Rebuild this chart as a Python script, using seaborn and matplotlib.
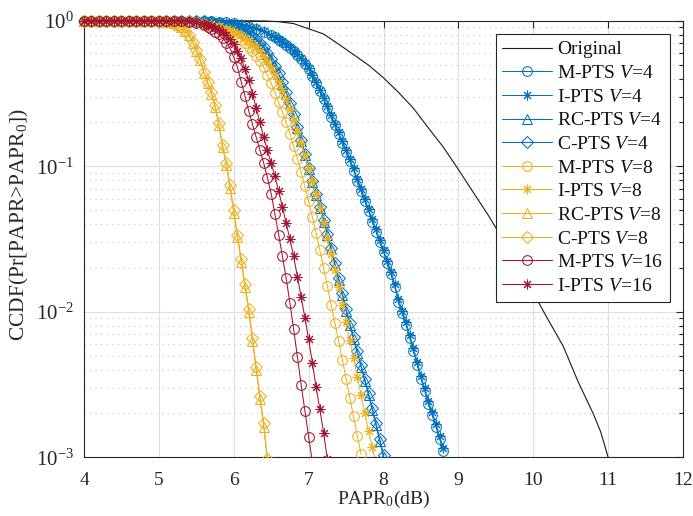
import matplotlib
matplotlib.use("Agg")
import matplotlib.pyplot as plt
import seaborn as sns
import pandas as pd
from matplotlib.ticker import LogLocator, NullLocator, NullFormatter, FixedLocator
from matplotlib.transforms import Bbox, TransformedBbox

# ---------------- data ----------------
papr_orig = [4.0, 5.0, 6.0, 6.2, 6.4, 6.6, 6.8, 7.0, 7.2, 7.4, 7.6, 7.8, 8.0, 8.2,
             8.4, 8.6, 8.8, 9.0, 9.2, 9.4, 9.6, 9.8, 10.0, 10.2, 10.4, 10.6, 10.8,
             10.9, 11.0]
ccdf_orig = [1.0, 1.0, 0.9995, 0.998, 0.995, 0.985, 0.955, 0.88, 0.81, 0.69, 0.585,
             0.495, 0.405, 0.322, 0.25, 0.183, 0.135, 0.095, 0.066, 0.046, 0.031,
             0.0205, 0.0135, 0.0088, 0.0058, 0.0033, 0.0020, 0.0015, 0.00100]

# V = 4
papr_v4_mi = [4.0, 4.1, 4.2, 4.3, 4.4, 4.5, 4.6, 4.7, 4.8, 4.9, 5.0, 5.1, 5.2, 5.3,
              5.4, 5.5, 5.6, 5.7, 5.8, 5.9, 6.0, 6.1, 6.2, 6.3, 6.4,
              6.5, 6.55, 6.6, 6.65, 6.7, 6.75, 6.8, 6.85, 6.9, 6.95, 7.0, 7.05,
              7.1, 7.15, 7.2, 7.25, 7.3, 7.35, 7.4, 7.45, 7.5, 7.55, 7.6, 7.65,
              7.7, 7.75, 7.8, 7.85, 7.9, 7.95, 8.0, 8.05, 8.1, 8.15, 8.2, 8.25,
              8.3, 8.35, 8.4, 8.45, 8.5, 8.55, 8.6, 8.65, 8.7, 8.75, 8.8]
ccdf_m_pts_v4 = [1.0, 1.0, 1.0, 1.0, 1.0, 1.0, 1.0, 1.0, 1.0, 1.0, 1.0, 1.0, 1.0, 1.0,
                 1.0, 1.0, 0.993, 0.989, 0.982, 0.973, 0.959, 0.940, 0.912, 0.881, 0.841,
                 0.794, 0.767, 0.741, 0.713, 0.684, 0.650, 0.617, 0.579, 0.543, 0.507,
                 0.468, 0.417, 0.372, 0.327, 0.288, 0.251, 0.219, 0.191, 0.166, 0.145,
                 0.126, 0.108, 0.0933, 0.0794, 0.0676, 0.0575, 0.0490, 0.0417, 0.0355,
                 0.0302, 0.0257, 0.0216, 0.0182, 0.0148, 0.0117, 0.00977, 0.00813,
                 0.00661, 0.00537, 0.00432, 0.00347, 0.00285, 0.00234, 0.00195,
                 0.00162, 0.00133, 0.00110]
ccdf_i_pts_v4 = [1.0, 1.0, 1.0, 1.0, 1.0, 1.0, 1.0, 1.0, 1.0, 1.0, 1.0, 1.0, 1.0, 1.0,
                 1.0, 1.0, 0.994, 0.990, 0.983, 0.975, 0.962, 0.944, 0.917, 0.886, 0.847,
                 0.800, 0.772, 0.746, 0.718, 0.690, 0.657, 0.624, 0.587, 0.551, 0.515,
                 0.476, 0.425, 0.380, 0.334, 0.295, 0.258, 0.225, 0.196, 0.171, 0.149,
                 0.130, 0.112, 0.0965, 0.0822, 0.0700, 0.0596, 0.0508, 0.0432, 0.0368,
                 0.0313, 0.0266, 0.0224, 0.0189, 0.0154, 0.0122, 0.0102, 0.00851,
                 0.00692, 0.00563, 0.00453, 0.00364, 0.00299, 0.00245, 0.00204,
                 0.00170, 0.00139, 0.00115]

papr_v4_rc = [4.0, 4.1, 4.2, 4.3, 4.4, 4.5, 4.6, 4.7, 4.8, 4.9, 5.0, 5.1, 5.2, 5.3,
              5.4, 5.5, 5.6, 5.7, 5.8, 5.9,
              6.0, 6.05, 6.1, 6.15, 6.2, 6.25, 6.3, 6.35, 6.4, 6.45, 6.5, 6.55, 6.6,
              6.65, 6.7, 6.75, 6.8, 6.85, 6.9, 6.95, 7.0, 7.05, 7.1, 7.15, 7.2, 7.25,
              7.3, 7.35, 7.4, 7.45, 7.5, 7.55, 7.6, 7.65, 7.7, 7.75, 7.8, 7.85, 7.9,
              7.95, 8.0]
ccdf_rc_pts_v4 = [1.0, 1.0, 1.0, 1.0, 1.0, 1.0, 1.0, 1.0, 1.0, 1.0, 1.0, 1.0, 1.0, 1.0,
                  1.0, 1.0, 0.989, 0.977, 0.959, 0.933,
                  0.902, 0.881, 0.861, 0.838, 0.813, 0.780, 0.741, 0.695, 0.646, 0.592,
                  0.537, 0.481, 0.427, 0.370, 0.316, 0.267, 0.224, 0.183, 0.148, 0.119,
                  0.0955, 0.0776, 0.0631, 0.0513, 0.0417, 0.0335, 0.0269, 0.0211,
                  0.0166, 0.0130, 0.0102, 0.00813, 0.00646, 0.00519, 0.00417, 0.00335,
                  0.00269, 0.00211, 0.00166, 0.00129, 0.00100]
ccdf_c_pts_v4 = [1.0, 1.0, 1.0, 1.0, 1.0, 1.0, 1.0, 1.0, 1.0, 1.0, 1.0, 1.0, 1.0, 1.0,
                 1.0, 1.0, 0.990, 0.978, 0.961, 0.936,
                 0.905, 0.884, 0.865, 0.842, 0.818, 0.786, 0.748, 0.703, 0.655, 0.601,
                 0.546, 0.490, 0.436, 0.378, 0.323, 0.273, 0.229, 0.187, 0.151, 0.122,
                 0.0978, 0.0795, 0.0647, 0.0526, 0.0428, 0.0344, 0.0276, 0.0217,
                 0.0171, 0.0134, 0.0105, 0.00838, 0.00666, 0.00535, 0.00430, 0.00346,
                 0.00278, 0.00218, 0.00172, 0.00133, 0.00104]

# V = 8
papr_v8_m = [4.0, 4.1, 4.2, 4.3, 4.4, 4.5, 4.6, 4.7, 4.8, 4.9, 5.0, 5.1, 5.2, 5.3,
             5.4, 5.5, 5.6, 5.7, 5.8,
             5.9, 5.95, 6.0, 6.05, 6.1, 6.15, 6.2, 6.25, 6.3, 6.35, 6.4, 6.45, 6.5,
             6.55, 6.6, 6.65, 6.7, 6.75, 6.8, 6.85, 6.9, 6.95, 7.0, 7.05, 7.1, 7.15,
             7.2, 7.25, 7.3, 7.35, 7.4, 7.45, 7.5, 7.55, 7.6, 7.65, 7.7]
ccdf_m_pts_v8 = [1.0, 1.0, 1.0, 1.0, 1.0, 1.0, 1.0, 1.0, 1.0, 1.0, 1.0, 1.0, 1.0, 1.0,
                 1.0, 0.977, 0.955, 0.923, 0.891,
                 0.851, 0.828, 0.804, 0.774, 0.741, 0.703, 0.661, 0.615, 0.569, 0.525,
                 0.479, 0.424, 0.372, 0.321, 0.275, 0.236, 0.200, 0.167, 0.138, 0.113,
                 0.0912, 0.0728, 0.0575, 0.0449, 0.0347, 0.0264, 0.0200, 0.0150,
                 0.0112, 0.00841, 0.00631, 0.00468, 0.00347, 0.00257, 0.00191,
                 0.00141, 0.00105]

papr_v8_i = [4.0, 4.1, 4.2, 4.3, 4.4, 4.5, 4.6, 4.7, 4.8, 4.9, 5.0, 5.1, 5.2, 5.3,
             5.4, 5.5, 5.6, 5.7, 5.8,
             5.9, 5.95, 6.0, 6.05, 6.1, 6.15, 6.2, 6.25, 6.3, 6.35, 6.4, 6.45, 6.5,
             6.55, 6.6, 6.65, 6.7, 6.75, 6.8, 6.85, 6.9, 6.95, 7.0, 7.05, 7.1, 7.15,
             7.2, 7.25, 7.3, 7.35, 7.4, 7.45, 7.5, 7.55, 7.6, 7.65, 7.7, 7.75, 7.8,
             7.85, 7.9]
ccdf_i_pts_v8 = [1.0, 1.0, 1.0, 1.0, 1.0, 1.0, 1.0, 1.0, 1.0, 1.0, 1.0, 1.0, 1.0, 1.0,
                 1.0, 0.982, 0.966, 0.944, 0.916,
                 0.881, 0.861, 0.841, 0.818, 0.794, 0.764, 0.733, 0.697, 0.661, 0.619,
                 0.575, 0.527, 0.479, 0.429, 0.380, 0.333, 0.288, 0.247, 0.209, 0.175,
                 0.145, 0.119, 0.0977, 0.0794, 0.0646, 0.0513, 0.0407, 0.0320,
                 0.0251, 0.0193, 0.0148, 0.0112, 0.00851, 0.00638, 0.00479, 0.00359,
                 0.00269, 0.00202, 0.00151, 0.00117, 0.00091]

papr_v8_rc = [4.0, 4.1, 4.2, 4.3, 4.4, 4.5, 4.6, 4.7, 4.8, 4.9, 5.0, 5.1,
              5.2, 5.25, 5.3, 5.35, 5.4, 5.45, 5.5, 5.55, 5.6, 5.65, 5.7, 5.75, 5.8,
              5.85, 5.9, 5.95, 6.0, 6.05, 6.1, 6.15, 6.2, 6.25, 6.3, 6.35, 6.4, 6.45]
ccdf_rc_pts_v8 = [1.0, 1.0, 1.0, 1.0, 1.0, 1.0, 1.0, 1.0, 1.0, 1.0, 0.993, 0.984,
                  0.959, 0.938, 0.902, 0.851, 0.794, 0.708, 0.617, 0.537, 0.437,
                  0.372, 0.316, 0.257, 0.191, 0.135, 0.102, 0.0708, 0.0479, 0.0324,
                  0.0219, 0.0148, 0.0100, 0.00631, 0.00398, 0.00251, 0.00162, 0.00095]
ccdf_c_pts_v8 = [1.0, 1.0, 1.0, 1.0, 1.0, 1.0, 1.0, 1.0, 1.0, 1.0, 0.994, 0.985,
                 0.961, 0.941, 0.906, 0.856, 0.800, 0.716, 0.626, 0.546, 0.446,
                 0.381, 0.324, 0.264, 0.197, 0.140, 0.106, 0.0738, 0.0500, 0.0339,
                 0.0229, 0.0155, 0.0105, 0.00663, 0.00419, 0.00264, 0.00171, 0.00098]

# V = 16
papr_v16_m = [4.0, 4.1, 4.2, 4.3, 4.4, 4.5, 4.6, 4.7, 4.8, 4.9, 5.0, 5.1, 5.2, 5.3,
              5.4, 5.5,
              5.6, 5.65, 5.7, 5.75, 5.8, 5.85, 5.9, 5.95, 6.0, 6.05, 6.1, 6.15, 6.2,
              6.25, 6.3, 6.35, 6.4, 6.45, 6.5, 6.55, 6.6, 6.65, 6.7, 6.75, 6.8, 6.85,
              6.9, 6.95, 7.0, 7.05]
ccdf_m_pts_v16 = [1.0, 1.0, 1.0, 1.0, 1.0, 1.0, 1.0, 1.0, 1.0, 1.0, 1.0, 1.0, 1.0, 1.0,
                  0.982, 0.959,
                  0.927, 0.902, 0.875, 0.841, 0.804, 0.759, 0.708, 0.646, 0.562, 0.479,
                  0.380, 0.302, 0.240, 0.195, 0.158, 0.129, 0.105, 0.0832, 0.0646,
                  0.0468, 0.0339, 0.0240, 0.0170, 0.0115, 0.00759, 0.00490, 0.00316,
                  0.00209, 0.00138, 0.00093]

papr_v16_i = [4.0, 4.1, 4.2, 4.3, 4.4, 4.5, 4.6, 4.7, 4.8, 4.9, 5.0, 5.1, 5.2, 5.3,
              5.4, 5.5,
              5.6, 5.65, 5.7, 5.75, 5.8, 5.85, 5.9, 5.95, 6.0, 6.05, 6.1, 6.15, 6.2,
              6.25, 6.3, 6.35, 6.4, 6.45, 6.5, 6.55, 6.6, 6.65, 6.7, 6.75, 6.8, 6.85,
              6.9, 6.95, 7.0, 7.05, 7.1, 7.15, 7.2, 7.25]
ccdf_i_pts_v16 = [1.0, 1.0, 1.0, 1.0, 1.0, 1.0, 1.0, 1.0, 1.0, 1.0, 1.0, 1.0, 1.0, 1.0,
                  1.0, 0.977,
                  0.955, 0.938, 0.918, 0.895, 0.871, 0.838, 0.794, 0.745, 0.692, 0.624,
                  0.550, 0.468, 0.389, 0.316, 0.251, 0.200, 0.158, 0.129, 0.105,
                  0.0851, 0.0676, 0.0525, 0.0407, 0.0316, 0.0240, 0.0174, 0.0126,
                  0.00912, 0.00646, 0.00447, 0.00302, 0.00214, 0.00148, 0.00097]

x_ticks = [4, 5, 6, 7, 8, 9, 10, 11, 12]

# ---------------- style ----------------
sns.set_style("white")
plt.rcParams["font.family"] = ["Liberation Serif", "DejaVu Serif"]
plt.rcParams["mathtext.fontset"] = "custom"
plt.rcParams["mathtext.rm"] = "Liberation Serif"
plt.rcParams["mathtext.it"] = "Liberation Serif:italic"
plt.rcParams["mathtext.bf"] = "Liberation Serif:bold"
plt.rcParams["axes.unicode_minus"] = False

BLUE = "#0072BD"
YELLOW = "#EDB120"
RED = "#A2142F"
AX_COL = "#262626"

fig = plt.figure(figsize=(6.93, 5.16), dpi=100)
ax = fig.add_axes([84 / 693, 1 - 457.3 / 516, 599 / 693, 436.6 / 516])

def draw(x, y, label, color, marker=None, ms=7, lw=0.75, zorder=3):
    df = pd.DataFrame({"papr": x, "ccdf": y})
    kw = dict(color=color, linewidth=lw, label=label, zorder=zorder,
              estimator=None, errorbar=None)
    if marker is not None:
        kw.update(marker=marker, markersize=ms, markerfacecolor="none",
                  markeredgecolor=color, markeredgewidth=0.75)
    sns.lineplot(data=df, x="papr", y="ccdf", ax=ax, **kw)

ASTER = (8, 2, 0)

draw(papr_orig, ccdf_orig, "Original", "#1a1a1a", lw=0.8)
draw(papr_v4_mi, ccdf_m_pts_v4, r"M-PTS $\mathit{V}$=$\mathit{4}$", BLUE, "o")
draw(papr_v4_mi, ccdf_i_pts_v4, r"I-PTS $\mathit{V}$=$\mathit{4}$", BLUE, ASTER)
draw(papr_v4_rc, ccdf_rc_pts_v4, r"RC-PTS $\mathit{V}$=$\mathit{4}$", BLUE, "^")
draw(papr_v4_rc, ccdf_c_pts_v4, r"C-PTS $\mathit{V}$=$\mathit{4}$", BLUE, "D", ms=6)
draw(papr_v8_m, ccdf_m_pts_v8, r"M-PTS $\mathit{V}$=$\mathit{8}$", YELLOW, "o")
draw(papr_v8_i, ccdf_i_pts_v8, r"I-PTS $\mathit{V}$=$\mathit{8}$", YELLOW, ASTER)
draw(papr_v8_rc, ccdf_rc_pts_v8, r"RC-PTS $\mathit{V}$=$\mathit{8}$", YELLOW, "^")
draw(papr_v8_rc, ccdf_c_pts_v8, r"C-PTS $\mathit{V}$=$\mathit{8}$", YELLOW, "D", ms=6)
draw(papr_v16_m, ccdf_m_pts_v16, r"M-PTS $\mathit{V}$=$\mathit{16}$", RED, "o")
draw(papr_v16_i, ccdf_i_pts_v16, r"I-PTS $\mathit{V}$=$\mathit{16}$", RED, ASTER)

ax.set_yscale("log")
ax.set_xlim(4, 12)
ax.set_ylim(1e-3, 1)
ax.xaxis.set_major_locator(FixedLocator(x_ticks))
ax.xaxis.set_minor_locator(NullLocator())
ax.yaxis.set_major_locator(LogLocator(base=10, numticks=10))
ax.yaxis.set_minor_locator(LogLocator(base=10, subs=range(2, 10), numticks=20))
ax.yaxis.set_minor_formatter(NullFormatter())

# markers may spill over the top/left frame (as in the original), lines stay clipped at bottom
clip = TransformedBbox(Bbox([[-0.02, 0.0], [1.0, 1.03]]), ax.transAxes)
for ln in ax.lines:
    ln.set_clip_path(None)
    ln.set_clip_box(clip)

ax.set_axisbelow(True)
ax.grid(True, which="major", color="#dedede", linewidth=0.8, linestyle="-")
ax.grid(True, which="minor", axis="y", color="#c4c4c4", linewidth=0.8,
        linestyle=(0, (1, 4)))

for s in ax.spines.values():
    s.set_color(AX_COL)
    s.set_linewidth(0.8)
    s.set_visible(True)
    s.set_zorder(2.5)

ax.tick_params(which="both", direction="in", top=True, right=True,
               color=AX_COL, labelcolor=AX_COL, width=0.8)
ax.tick_params(which="major", length=5)
ax.tick_params(which="minor", length=3)
ax.tick_params(axis="x", labelsize=14, pad=10.5)
ax.tick_params(axis="y", labelsize=15, pad=7.5)

ax.set_xlabel(r"PAPR$_0$(dB)", fontsize=14, color=AX_COL, labelpad=0)
ax.set_ylabel(r"CCDF(Pr[PAPR>PAPR$_0$])", fontsize=15.5, color=AX_COL)
ax.yaxis.set_label_coords(-0.088, 0.532)

leg = ax.legend(loc="upper right", bbox_to_anchor=(0.978, 0.9695),
                borderaxespad=0, fontsize=14, frameon=True, fancybox=False,
                framealpha=1, edgecolor=AX_COL, labelspacing=0.31,
                handlelength=2.55, handletextpad=0.25, borderpad=0.35)
leg.get_frame().set_linewidth(0.8)
leg.set_zorder(10)
for t in leg.get_texts():
    t.set_color("#111111")

fig.savefig("out.png", dpi=100, facecolor="white")
